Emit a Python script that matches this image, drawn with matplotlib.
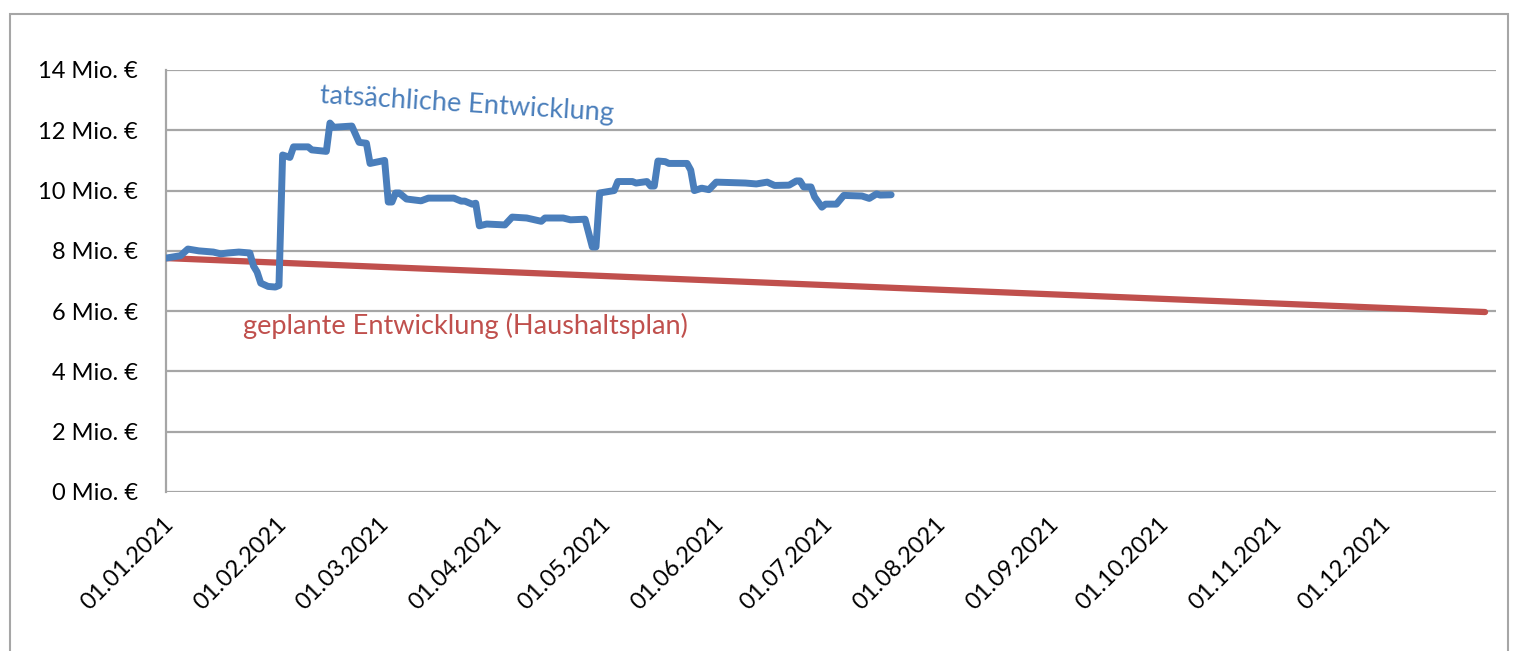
import matplotlib.pyplot as plt
import matplotlib.dates as mdates
import matplotlib.transforms as mtransforms
from matplotlib.patches import Rectangle
from matplotlib.ticker import FuncFormatter
import numpy as np
import pandas as pd

# tatsächliche Entwicklung (Mio. €)
ist_dates = ["2021-01-01", "2021-01-03", "2021-01-05", "2021-01-07", "2021-01-10", "2021-01-14",
             "2021-01-16", "2021-01-18", "2021-01-21", "2021-01-24", "2021-01-25", "2021-01-26",
             "2021-01-27", "2021-01-29", "2021-01-31", "2021-02-01", "2021-02-02", "2021-02-04",
             "2021-02-05", "2021-02-09", "2021-02-10", "2021-02-14", "2021-02-15", "2021-02-16",
             "2021-02-21", "2021-02-23", "2021-02-25", "2021-02-26", "2021-03-02", "2021-03-03",
             "2021-03-04", "2021-03-05", "2021-03-06", "2021-03-08", "2021-03-12", "2021-03-14",
             "2021-03-21", "2021-03-23", "2021-03-24", "2021-03-26", "2021-03-27", "2021-03-28",
             "2021-03-30", "2021-04-04", "2021-04-06", "2021-04-10", "2021-04-14", "2021-04-15",
             "2021-04-20", "2021-04-22", "2021-04-26", "2021-04-28", "2021-04-29", "2021-04-30",
             "2021-05-01", "2021-05-04", "2021-05-05", "2021-05-09", "2021-05-10", "2021-05-13",
             "2021-05-14", "2021-05-15", "2021-05-16", "2021-05-18", "2021-05-19", "2021-05-24",
             "2021-05-25", "2021-05-26", "2021-05-28", "2021-05-30", "2021-06-01", "2021-06-09",
             "2021-06-12", "2021-06-15", "2021-06-17", "2021-06-21", "2021-06-23", "2021-06-24",
             "2021-06-25", "2021-06-27", "2021-06-28", "2021-06-30", "2021-07-01", "2021-07-04",
             "2021-07-06", "2021-07-11", "2021-07-13", "2021-07-15", "2021-07-16", "2021-07-19"]
ist_values = [7.76, 7.80, 7.84, 8.06, 8.00, 7.96,
              7.90, 7.93, 7.96, 7.93, 7.50, 7.30,
              6.93, 6.82, 6.80, 6.85, 11.18, 11.10,
              11.45, 11.45, 11.35, 11.30, 12.24, 12.10,
              12.14, 11.60, 11.57, 10.90, 11.00, 9.62,
              9.62, 9.92, 9.92, 9.72, 9.66, 9.75,
              9.75, 9.65, 9.65, 9.55, 9.58, 8.83,
              8.89, 8.86, 9.12, 9.09, 8.98, 9.09,
              9.09, 9.03, 9.05, 8.13, 8.13, 9.92,
              9.94, 10.00, 10.30, 10.30, 10.25, 10.30,
              10.15, 10.15, 10.98, 10.96, 10.90, 10.90,
              10.68, 10.00, 10.08, 10.03, 10.28, 10.25,
              10.22, 10.28, 10.17, 10.18, 10.32, 10.32,
              10.12, 10.12, 9.79, 9.45, 9.55, 9.55,
              9.84, 9.82, 9.74, 9.89, 9.85, 9.86]

# geplante Entwicklung (Haushaltsplan)
plan_dates = ["2021-01-01", "2021-12-29"]
plan_values = [7.76, 5.97]

month_ticks = pd.date_range("2021-01-01", "2021-12-01", freq="MS")

blue = "#4a7ebb"
red = "#c0504d"
grid_gray = "#a6a6a6"
font = ["Lato", "DejaVu Sans"]

fig = plt.figure(figsize=(15.16, 6.51), dpi=100)
fig.patches.append(Rectangle((10 / 1516, -0.1), 1498 / 1516, (651 - 14) / 651 + 0.1,
                             transform=fig.transFigure, fill=False,
                             edgecolor=grid_gray, linewidth=1.5))
ax = fig.add_axes([166 / 1516, (651 - 492) / 651, (1496 - 166) / 1516, (492 - 70) / 651])

ax.plot(pd.to_datetime(plan_dates), plan_values, color=red, linewidth=4.5,
        solid_capstyle="round", zorder=3)
ax.plot(pd.to_datetime(ist_dates), ist_values, color=blue, linewidth=5,
        solid_capstyle="round", solid_joinstyle="round", zorder=4)

ax.set_xlim(pd.Timestamp("2021-01-01"), pd.Timestamp("2022-01-01"))
ax.set_ylim(0, 14)
ax.set_yticks(np.arange(0, 15, 2))
ax.yaxis.set_major_formatter(FuncFormatter(lambda v, p: f"{int(v)} Mio. €"))
ax.set_xticks(month_ticks)
ax.xaxis.set_major_formatter(mdates.DateFormatter("%d.%m.%Y"))

ax.grid(axis="y", color=grid_gray, linewidth=1.6)
ax.set_axisbelow(True)
for side in ["top", "right", "bottom"]:
    ax.spines[side].set_visible(False)
ax.spines["left"].set_color(grid_gray)
ax.spines["left"].set_linewidth(1.6)

ax.tick_params(axis="y", length=0, pad=20, labelsize=17)
ax.tick_params(axis="x", length=0, pad=21, labelsize=17)
for lab in ax.get_yticklabels():
    lab.set_family(font)
# small nudge to the right so the rotated labels end where Excel puts them
shift = mtransforms.ScaledTranslation(4 / 100, 0, fig.dpi_scale_trans)
for lab in ax.get_xticklabels():
    lab.set_family(font)
    lab.set_rotation(45)
    lab.set_ha("right")
    lab.set_va("center")
    lab.set_rotation_mode("anchor")
    lab.set_transform(lab.get_transform() + shift)

ax.text(pd.Timestamp("2021-02-12"), 12.9, "tatsächliche Entwicklung", color=blue,
        fontsize=19.5, family=font, rotation=-3.5, rotation_mode="anchor",
        ha="left", va="baseline")
ax.text(pd.Timestamp("2021-01-22"), 5.24, "geplante Entwicklung (Haushaltsplan)", color=red,
        fontsize=19.5, family=font, ha="left", va="baseline")

fig.savefig("out.png", dpi=100)
